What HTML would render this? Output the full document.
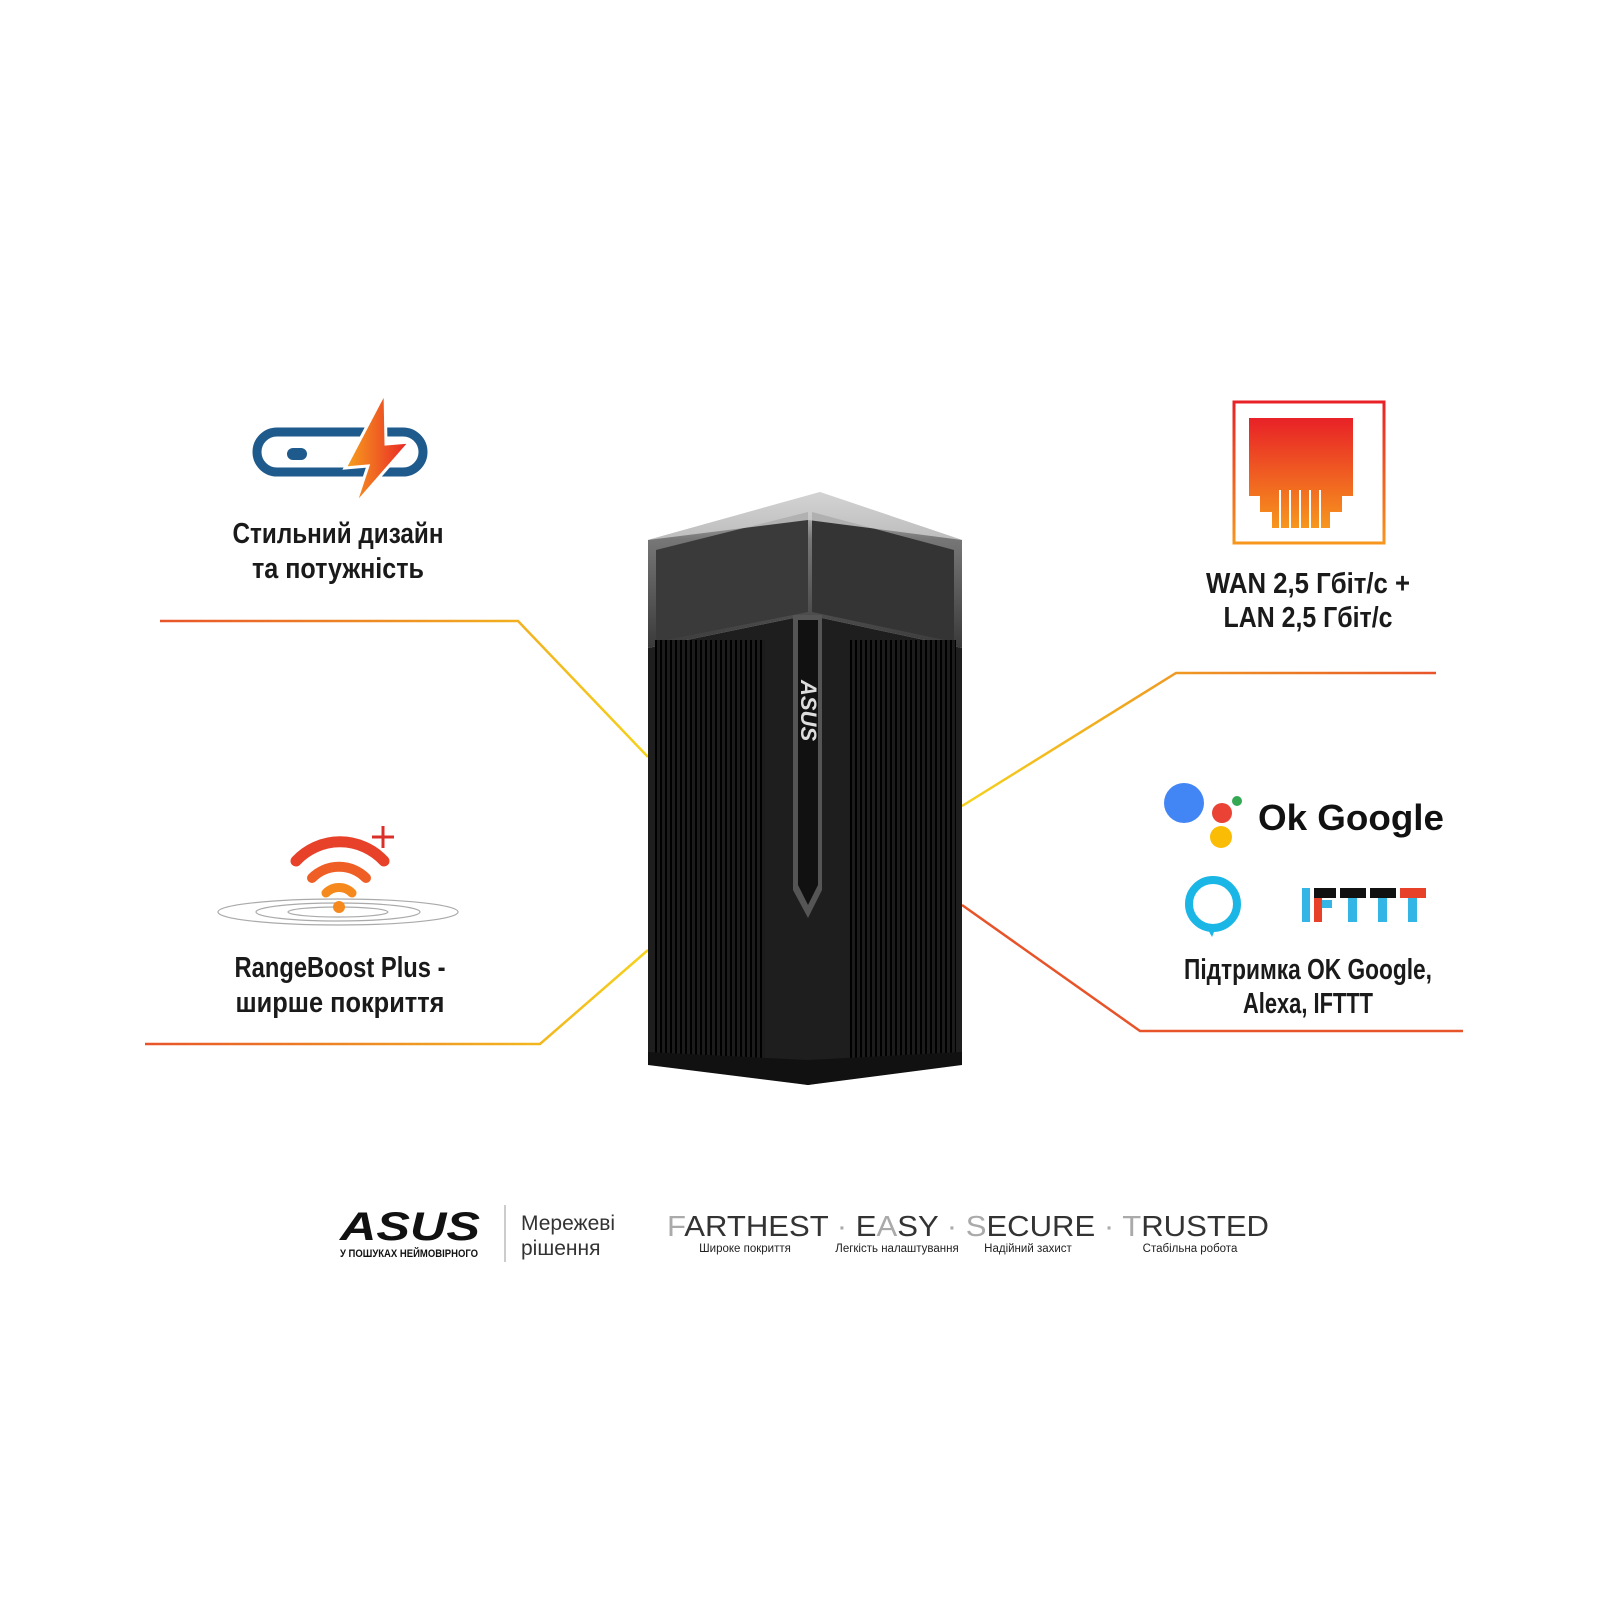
<!DOCTYPE html>
<html><head><meta charset="utf-8"><style>
body{margin:0;background:#fff;width:1600px;height:1600px;overflow:hidden}
svg{display:block}
.t{font-family:"Liberation Sans Narrow","Liberation Sans",sans-serif;font-weight:bold;fill:#1a1a1a}
</style></head><body>
<svg width="1600" height="1600" viewBox="0 0 1600 1600" xmlns="http://www.w3.org/2000/svg">
<defs>
<linearGradient id="ly" x1="0" x2="1"><stop offset="0" stop-color="#e8542a"/><stop offset="1" stop-color="#f5d21c"/></linearGradient>
<linearGradient id="lyr" x1="1" x2="0"><stop offset="0" stop-color="#e8542a"/><stop offset="1" stop-color="#f5d21c"/></linearGradient>
<linearGradient id="og" x1="0" y1="0" x2="0" y2="1"><stop offset="0" stop-color="#e82127"/><stop offset="1" stop-color="#f7961d"/></linearGradient>
<linearGradient id="bolt" x1="0" x2="1"><stop offset="0" stop-color="#f7a21d"/><stop offset="1" stop-color="#e82127"/></linearGradient>
<linearGradient id="cap" x1="0" y1="0" x2="0" y2="1"><stop offset="0" stop-color="#e0e0e0"/><stop offset="0.3" stop-color="#777"/><stop offset="1" stop-color="#3a3a3a"/></linearGradient>
<pattern id="fins" width="5" height="10" patternUnits="userSpaceOnUse"><rect width="5" height="10" fill="#1c1c1c"/><rect width="2" height="10" fill="#000"/></pattern>
</defs>

<polyline points="160,621 518,621 648,757" fill="none" stroke="url(#ly)" stroke-width="2.5"/>
<polyline points="145,1044 540,1044 648,950" fill="none" stroke="url(#ly)" stroke-width="2.5"/>
<polyline points="962,806 1176,673 1436,673" fill="none" stroke="url(#lyr)" stroke-width="2.5"/>
<polyline points="962,905 1140,1031 1463,1031" fill="none" stroke="#e8542a" stroke-width="2.5"/>
<polyline points="1140,1031 1463,1031" fill="none" stroke="url(#lyr)" stroke-width="2.5"/>

<!-- router -->
<polygon points="648,540 820,492 962,540 962,648 808,615 648,648" fill="url(#cap)"/>
<polygon points="656,550 808,512 808,612 656,642" fill="#3a3a3a"/>
<polygon points="812,512 954,550 954,642 812,612" fill="#343434"/>
<polygon points="648,540 820,492 962,540 808,520" fill="#d0d0d0" opacity="0.8"/>
<polygon points="648,648 808,615 962,648 962,1060 808,1085 648,1060" fill="#1e1e1e"/>
<rect x="655" y="640" width="110" height="420" fill="url(#fins)"/>
<rect x="850" y="640" width="106" height="420" fill="url(#fins)"/>
<polygon points="648,1052 808,1060 962,1052 962,1065 808,1085 648,1065" fill="#111"/>
<path d="M793,615 L822,615 L822,890 L808,918 L793,890 Z" fill="#555"/>
<path d="M798,620 L818,620 L818,885 L808,905 L798,885 Z" fill="#111"/>
<text x="0" y="0" transform="translate(801,680) rotate(90)" font-family="Liberation Sans" font-weight="bold" font-style="italic" font-size="22" fill="#ddd">ASUS</text>

<!-- left top icon -->
<rect x="257" y="432" width="166" height="40" rx="20" fill="none" stroke="#1f5a8c" stroke-width="9"/>
<rect x="287" y="448" width="20" height="12" rx="6" fill="#1f5a8c"/>
<polygon points="385,392 345,468 368,466 355,505 410,442 386,444" fill="url(#bolt)"/>
<polygon points="385,392 345,468 368,466 355,505 410,442 386,444" fill="none" stroke="#fff" stroke-width="3"/>
<text class="t" x="338" y="543" font-size="29" text-anchor="middle" textLength="211" lengthAdjust="spacingAndGlyphs">Стильний дизайн</text>
<text class="t" x="338" y="578" font-size="29" text-anchor="middle" textLength="172" lengthAdjust="spacingAndGlyphs">та потужність</text>

<!-- wifi icon -->
<g fill="none" stroke="#aaa" stroke-width="1.2">
<ellipse cx="338" cy="912" rx="120" ry="13"/><ellipse cx="338" cy="912" rx="82" ry="9"/><ellipse cx="338" cy="912" rx="50" ry="5"/>
</g>
<g fill="none" stroke-linecap="round">
<path d="M296,861 A60,60 0 0 1 384,861" stroke="#e8412a" stroke-width="11"/>
<path d="M312,878 A38,38 0 0 1 366,878" stroke="#ef5f25" stroke-width="10"/>
<path d="M326,893 A18,18 0 0 1 352,893" stroke="#f5891d" stroke-width="9"/>
</g>
<circle cx="339" cy="907" r="6" fill="#f5891d"/>
<path d="M383,826 v22 M372,837 h22" stroke="#d9302a" stroke-width="3"/>
<text class="t" x="340" y="977" font-size="29" text-anchor="middle" textLength="211" lengthAdjust="spacingAndGlyphs">RangeBoost Plus -</text>
<text class="t" x="340" y="1012" font-size="29" text-anchor="middle" textLength="209" lengthAdjust="spacingAndGlyphs">ширше покриття</text>

<!-- RJ45 icon -->
<rect x="1234" y="402" width="150" height="141" fill="none" stroke="url(#og)" stroke-width="3"/>
<path d="M1249,418 H1353 V496 H1342 V512 H1330 V528 H1272 V512 H1260 V496 H1249 Z" fill="url(#og)"/>
<g stroke="#fff" stroke-width="2"><path d="M1280,490 V528 M1290,490 V528 M1300,490 V528 M1310,490 V528 M1320,490 V528"/></g>
<text class="t" x="1308" y="593" font-size="29" text-anchor="middle" textLength="204" lengthAdjust="spacingAndGlyphs">WAN  2,5 Гбіт/с +</text>
<text class="t" x="1308" y="627" font-size="29" text-anchor="middle" textLength="169" lengthAdjust="spacingAndGlyphs">LAN  2,5 Гбіт/с</text>

<!-- Ok Google -->
<circle cx="1184" cy="803" r="20" fill="#4285f4"/>
<circle cx="1222" cy="813" r="10" fill="#ea4335"/>
<circle cx="1237" cy="801" r="5" fill="#34a853"/>
<circle cx="1221" cy="837" r="11" fill="#fbbc05"/>
<text x="1258" y="830" font-family="Liberation Sans,sans-serif" font-weight="bold" font-size="36" fill="#111" textLength="186" lengthAdjust="spacingAndGlyphs">Ok Google</text>
<circle cx="1213" cy="904" r="24" fill="none" stroke="#1ab6e6" stroke-width="8"/>
<path d="M1206,926 L1212,937 L1216,927" fill="#1ab6e6"/>
<g>
<rect x="1302" y="888" width="8" height="34" fill="#33b5e5"/>
<rect x="1314" y="888" width="22" height="10" fill="#111"/><rect x="1314" y="898" width="8" height="24" fill="#e8412a"/><rect x="1322" y="900" width="10" height="8" fill="#33b5e5"/>
<rect x="1340" y="888" width="26" height="10" fill="#111"/><rect x="1348" y="898" width="9" height="24" fill="#33b5e5"/>
<rect x="1370" y="888" width="26" height="10" fill="#111"/><rect x="1378" y="898" width="9" height="24" fill="#33b5e5"/>
<rect x="1400" y="888" width="26" height="10" fill="#e8412a"/><rect x="1408" y="898" width="9" height="24" fill="#33b5e5"/>
</g>
<text class="t" x="1308" y="979" font-size="29" text-anchor="middle" textLength="248" lengthAdjust="spacingAndGlyphs">Підтримка OK Google,</text>
<text class="t" x="1308" y="1013" font-size="29" text-anchor="middle" textLength="130" lengthAdjust="spacingAndGlyphs">Alexa, IFTTT</text>

<!-- bottom bar -->
<text x="340" y="1240" font-family="Liberation Sans,sans-serif" font-weight="bold" font-style="italic" font-size="40" fill="#111" textLength="140" lengthAdjust="spacingAndGlyphs">ASUS</text>
<text x="340" y="1257" font-family="Liberation Sans Narrow,Liberation Sans,sans-serif" font-weight="bold" font-size="11" fill="#111" textLength="138" lengthAdjust="spacingAndGlyphs">У ПОШУКАХ НЕЙМОВІРНОГО</text>
<line x1="505" y1="1205" x2="505" y2="1262" stroke="#bbb" stroke-width="1.5"/>
<text x="521" y="1230" font-family="Liberation Sans,sans-serif" font-size="21" fill="#333">Мережеві</text>
<text x="521" y="1255" font-family="Liberation Sans,sans-serif" font-size="21" fill="#333">рішення</text>
<text x="667" y="1236" font-family="Liberation Sans,sans-serif" font-size="29" fill="#333" textLength="602" lengthAdjust="spacingAndGlyphs"><tspan fill="#aaa">F</tspan>ARTHEST<tspan fill="#aaa"> · </tspan>E<tspan fill="#aaa">A</tspan>SY<tspan fill="#aaa"> · S</tspan>ECURE<tspan fill="#aaa"> · T</tspan>RUSTED</text>
<g font-family="Liberation Sans Narrow,Liberation Sans,sans-serif" font-size="11.5" fill="#222" text-anchor="middle">
<text x="745" y="1252">Широке покриття</text>
<text x="897" y="1252">Легкість налаштування</text>
<text x="1028" y="1252">Надійний захист</text>
<text x="1190" y="1252">Стабільна робота</text>
</g>
</svg>
</body></html>
